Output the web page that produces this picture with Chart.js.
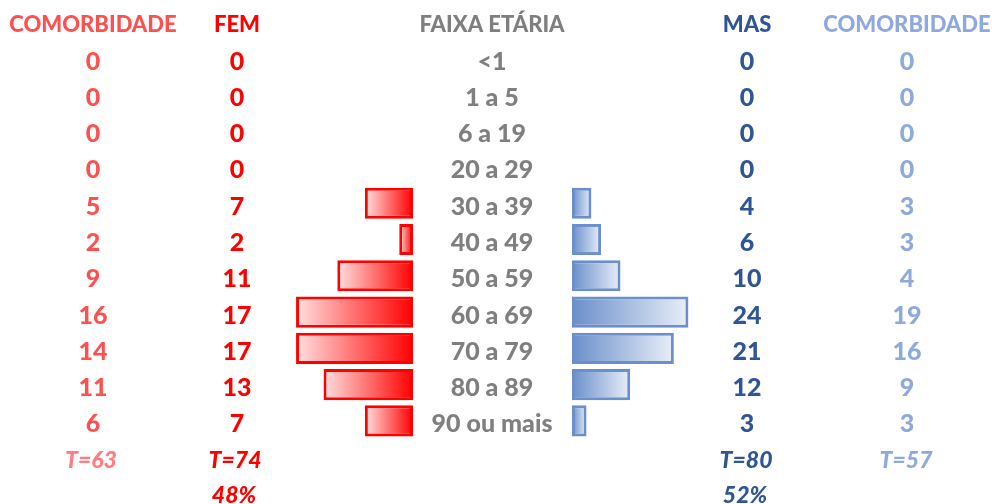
<!DOCTYPE html>
<html>
<head>
<meta charset="utf-8">
<script src="https://cdn.jsdelivr.net/npm/chart.js@4.4.1/dist/chart.umd.min.js"></script>
<style>
  body { margin: 0; background: #ffffff; }
  #wrap { width: 992px; height: 504px; }
</style>
</head>
<body>
<div id="wrap"><canvas id="pyramid" width="992" height="504"></canvas></div>
<script>
// Age groups and case counts by sex
const ageGroups = ['<1', '1 a 5', '6 a 19', '20 a 29', '30 a 39', '40 a 49', '50 a 59', '60 a 69', '70 a 79', '80 a 89', '90 ou mais'];
const femComorbidity = [0, 0, 0, 0, 5, 2, 9, 16, 14, 11, 6];
const femCases = [0, 0, 0, 0, 7, 2, 11, 17, 17, 13, 7];
const masCases = [0, 0, 0, 0, 4, 6, 10, 24, 21, 12, 3];
const masComorbidity = [0, 0, 0, 0, 3, 3, 4, 19, 16, 9, 3];

// Column headers
const headers = ['COMORBIDADE', 'FEM', 'FAIXA ETÁRIA', 'MAS', 'COMORBIDADE'];

// Colours
const femComorbColor = '#FF5050';
const femColor = '#FF0000';
const ageColor = '#7F7F7F';
const masColor = '#2F5597';
const masComorbColor = '#8EA9DB';
const femTotalComorbColor = '#FF7C80';
const masBarColor = '#6A8FCA';

// Where the bars start and how many pixels per case (each side has its own scale)
const canvasWidth = 992;
const femBaseX = 413, femPxPerCase = 6.88;
const masBaseX = 572, masPxPerCase = 4.85;

const fontFamily = 'Lato';

function sum(arr) {
    return arr.reduce((a, b) => a + b, 0);
}

// Gradient for one bar, built from the bar's own pixel extent
function barGradient(ctx, axisId, lightLeft, strongColor, lightColor) {
    const chart = ctx.chart;
    if (!chart.chartArea || !chart.scales[axisId]) return strongColor;
    const scale = chart.scales[axisId];
    const v = ctx.raw || 0;
    const x0 = scale.getPixelForValue(0);
    const x1 = scale.getPixelForValue(v);
    const left = Math.min(x0, x1), right = Math.max(x0, x1);
    if (right - left < 1) return strongColor;
    const g = chart.ctx.createLinearGradient(left, 0, right, 0);
    if (lightLeft) {
        g.addColorStop(0, lightColor);
        g.addColorStop(1, strongColor);
    } else {
        g.addColorStop(0, strongColor);
        g.addColorStop(1, lightColor);
    }
    return g;
}

// Draws the table text around the bars
const tablePlugin = {
    id: 'tableText',
    afterDraw(chart) {
        const ctx = chart.ctx;
        const y = chart.scales.y;
        const cols = [93, 237, 492, 747, 907];
        const colColors = [femComorbColor, femColor, ageColor, masColor, masComorbColor];
        const rowCenter = i => y.getPixelForValue(i);

        ctx.save();
        ctx.textAlign = 'center';
        ctx.textBaseline = 'alphabetic';

        // headers
        ctx.font = '900 22px ' + fontFamily;
        headers.forEach((h, c) => {
            ctx.fillStyle = colColors[c];
            ctx.fillText(h, cols[c], rowCenter(0) - 26);
        });

        // rows
        ctx.font = '900 25px ' + fontFamily;
        ageGroups.forEach((age, i) => {
            const base = rowCenter(i) + 11.5;
            const cells = [femComorbidity[i], femCases[i], age, masCases[i], masComorbidity[i]];
            cells.forEach((txt, c) => {
                ctx.fillStyle = colColors[c];
                ctx.fillText(String(txt), cols[c], base);
            });
        });

        // totals
        const last = rowCenter(ageGroups.length - 1);
        const femTotal = sum(femCases), masTotal = sum(masCases);
        ctx.font = 'italic 900 23px ' + fontFamily;
        ctx.fillStyle = femTotalComorbColor;
        ctx.fillText('T=' + sum(femComorbidity), 91, last + 47.5);
        ctx.fillStyle = femColor;
        ctx.fillText('T=' + femTotal, 235, last + 47.5);
        ctx.fillStyle = masColor;
        ctx.fillText('T=' + masTotal, 746, last + 47.5);
        ctx.fillStyle = masComorbColor;
        ctx.fillText('T=' + sum(masComorbidity), 906, last + 47.5);

        // share of each sex
        ctx.fillStyle = femColor;
        ctx.fillText(Math.round(femTotal / (femTotal + masTotal) * 100) + '%', 234, last + 82);
        ctx.fillStyle = masColor;
        ctx.fillText(Math.round(masTotal / (femTotal + masTotal) * 100) + '%', 745, last + 82);
        ctx.restore();
    }
};

const femMax = femBaseX / femPxPerCase;
const femMin = femMax - canvasWidth / femPxPerCase;
const masMin = -masBaseX / masPxPerCase;
const masMax = masMin + canvasWidth / masPxPerCase;

new Chart(document.getElementById('pyramid').getContext('2d'), {
    type: 'bar',
    data: {
        labels: ageGroups,
        datasets: [{
            label: 'FEM',
            data: femCases,
            xAxisID: 'xF',
            grouped: false,
            backgroundColor: ctx => barGradient(ctx, 'xF', true, '#FF0000', '#FFE0E0'),
            borderColor: '#FF0000',
            borderWidth: ctx => (ctx.raw ? 3 : 0),
            borderSkipped: false,
            barPercentage: 0.86,
            categoryPercentage: 1
        }, {
            label: 'MAS',
            data: masCases,
            xAxisID: 'xM',
            grouped: false,
            backgroundColor: ctx => barGradient(ctx, 'xM', false, masBarColor, '#E9EEF8'),
            borderColor: masBarColor,
            borderWidth: ctx => (ctx.raw ? 3 : 0),
            borderSkipped: false,
            barPercentage: 0.86,
            categoryPercentage: 1
        }]
    },
    options: {
        indexAxis: 'y',
        responsive: false,
        animation: false,
        devicePixelRatio: 1,
        layout: { padding: { top: 40, bottom: 65, left: 0, right: 0 } },
        plugins: {
            legend: { display: false },
            tooltip: { enabled: false }
        },
        scales: {
            y: { type: 'category', display: false, offset: true },
            xF: { type: 'linear', display: false, reverse: true, min: femMin, max: femMax },
            xM: { type: 'linear', display: false, min: masMin, max: masMax }
        }
    },
    plugins: [tablePlugin]
});
</script>
</body>
</html>
